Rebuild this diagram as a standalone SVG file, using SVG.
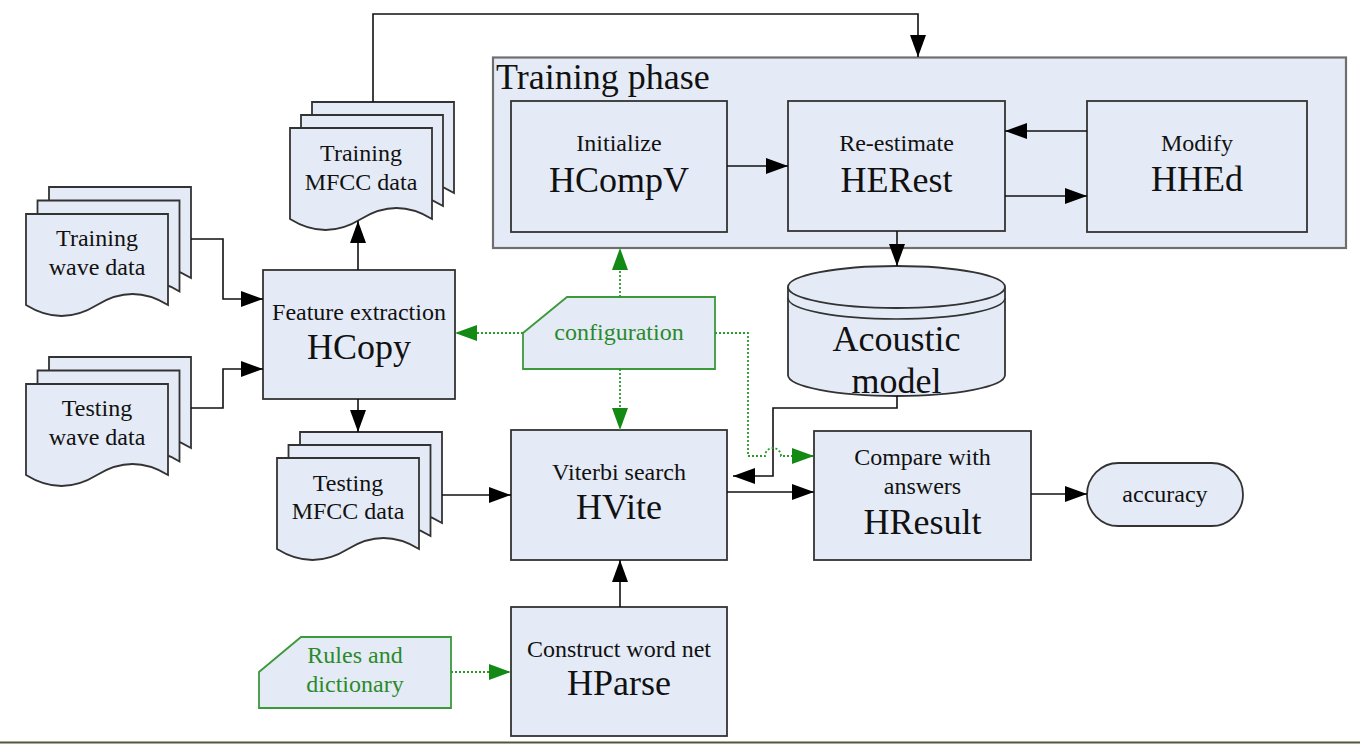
<svg xmlns="http://www.w3.org/2000/svg" width="1360" height="744" viewBox="0 0 1360 744">
<defs>
<style>
.box{fill:#e5ebf6;stroke:#333;stroke-width:1.8}
.cont{fill:#e5ebf6;stroke:#6e6e6e;stroke-width:2.2}
.card{fill:#e5ebf6;stroke:#3a9a3a;stroke-width:1.8}
.t{font-family:"Liberation Serif","Times New Roman",serif;fill:#111;text-anchor:middle}
.s{font-size:24px}
.b{font-size:36px}
.g{fill:#2a8a2a}
.ln{fill:none;stroke:#111;stroke-width:1.6}
.gl{fill:none;stroke:#2a9a2a;stroke-width:1.8;stroke-dasharray:2 2}
</style>
<marker id="ah" viewBox="0 0 22 16" refX="22" refY="8" markerWidth="22" markerHeight="16" markerUnits="userSpaceOnUse" orient="auto">
<path d="M0,0 L22,8 L0,16 Z" fill="#000"/>
</marker>
<marker id="gh" viewBox="0 0 22 16" refX="22" refY="8" markerWidth="22" markerHeight="16" markerUnits="userSpaceOnUse" orient="auto">
<path d="M0,0 L22,8 L0,16 Z" fill="#138a13"/>
</marker>
<path id="doc" d="M0,0 H142 V91 Q106.5,69 71,91 T0,91 Z"/>
</defs>
<rect width="1360" height="744" fill="#fff"/>

<g id="training-phase">
<rect class="cont" x="493" y="57.5" width="853" height="190.5"/>
<text class="t" x="496" y="89" font-size="36" text-anchor="start" style="text-anchor:start">Training phase</text>
</g>

<g id="hcompv">
<rect class="box" x="511" y="101" width="216" height="131"/>
<text class="t s" x="619" y="151">Initialize</text>
<text class="t b" x="619" y="192">HCompV</text>
</g>
<g id="herest">
<rect class="box" x="788" y="101" width="217" height="130"/>
<text class="t s" x="896.5" y="151">Re-estimate</text>
<text class="t b" x="896.5" y="192">HERest</text>
</g>
<g id="hhed">
<rect class="box" x="1087" y="101" width="220" height="131"/>
<text class="t s" x="1197" y="151">Modify</text>
<text class="t b" x="1197" y="191">HHEd</text>
</g>

<g id="training-wave-data">
<use href="#doc" x="49" y="187" class="box"/>
<use href="#doc" x="37.5" y="200.5" class="box"/>
<use href="#doc" x="26" y="214" class="box"/>
<text class="t s" x="97" y="246">Training</text>
<text class="t s" x="97" y="275">wave data</text>
</g>
<g id="testing-wave-data">
<use href="#doc" x="49" y="357" class="box"/>
<use href="#doc" x="37.5" y="370.5" class="box"/>
<use href="#doc" x="26" y="384" class="box"/>
<text class="t s" x="97" y="416">Testing</text>
<text class="t s" x="97" y="445">wave data</text>
</g>
<g id="training-mfcc">
<use href="#doc" x="312" y="102" class="box"/>
<use href="#doc" x="301" y="115" class="box"/>
<use href="#doc" x="290" y="128" class="box"/>
<text class="t s" x="361" y="161">Training</text>
<text class="t s" x="361" y="190">MFCC data</text>
</g>
<g id="testing-mfcc">
<use href="#doc" x="300" y="432" class="box"/>
<use href="#doc" x="288.5" y="445" class="box"/>
<use href="#doc" x="277" y="458" class="box"/>
<text class="t s" x="348" y="491">Testing</text>
<text class="t s" x="348" y="519">MFCC data</text>
</g>

<g id="hcopy">
<rect class="box" x="263" y="270" width="192" height="129"/>
<text class="t s" x="359" y="320">Feature extraction</text>
<text class="t b" x="359" y="359">HCopy</text>
</g>

<g id="configuration">
<path class="card" d="M567,297 H715 V369 H523 V333 Z"/>
<text class="t s g" x="619" y="340">configuration</text>
</g>

<g id="acoustic-model">
<path class="box" d="M788,287 V375 A108.5,21 0 0 0 1005,375 V287"/>
<ellipse class="box" cx="896.5" cy="287" rx="108.5" ry="21"/>
<path class="ln" style="stroke:#333" d="M788,298 A108.5,21 0 0 0 1005,298"/>
<text class="t b" x="896.5" y="351">Acoustic</text>
<text class="t b" x="896.5" y="393">model</text>
</g>

<g id="hvite">
<rect class="box" x="511" y="430" width="216" height="130"/>
<text class="t s" x="619" y="480">Viterbi search</text>
<text class="t b" x="619" y="519">HVite</text>
</g>

<g id="hresult">
<rect class="box" x="814" y="431" width="217" height="129"/>
<text class="t s" x="922.5" y="465">Compare with</text>
<text class="t s" x="922.5" y="494">answers</text>
<text class="t b" x="922.5" y="534">HResult</text>
</g>

<g id="accuracy">
<rect class="box" x="1087" y="463" width="156" height="63" rx="31.5"/>
<text class="t s" x="1165" y="502">accuracy</text>
</g>

<g id="hparse">
<rect class="box" x="511" y="607" width="216" height="129"/>
<text class="t s" x="619" y="657">Construct word net</text>
<text class="t b" x="619" y="695">HParse</text>
</g>

<g id="rules">
<path class="card" d="M301,637 H451 V708 H259 V672 Z"/>
<text class="t s g" x="355" y="663">Rules and</text>
<text class="t s g" x="355" y="692">dictionary</text>
</g>

<g id="connectors">
<path class="ln" marker-end="url(#ah)" d="M191,239 H223 V299 H263"/>
<path class="ln" marker-end="url(#ah)" d="M191,408 H223 V369 H263"/>
<path class="ln" marker-end="url(#ah)" d="M358,270 V221"/>
<path class="ln" marker-end="url(#ah)" d="M358,399 V432"/>
<path class="ln" marker-end="url(#ah)" d="M373,102 V14 H918 V57"/>
<path class="ln" marker-end="url(#ah)" d="M727,166 H788"/>
<path class="ln" marker-end="url(#ah)" d="M1005,196 H1087"/>
<path class="ln" marker-end="url(#ah)" d="M1087,131 H1005"/>
<path class="ln" marker-end="url(#ah)" d="M897,231 V266"/>
<path class="ln" marker-end="url(#ah)" d="M897,396 V408 H773 V476 H733"/>
<path class="ln" marker-end="url(#ah)" d="M727,492 H814"/>
<path class="ln" marker-end="url(#ah)" d="M1031,494 H1087"/>
<path class="ln" marker-end="url(#ah)" d="M442,495 H511"/>
<path class="ln" marker-end="url(#ah)" d="M620,607 V560"/>
<path class="gl" marker-end="url(#gh)" d="M523,333 H455"/>
<path class="gl" marker-end="url(#gh)" d="M620,297 V248"/>
<path class="gl" marker-end="url(#gh)" d="M620,369 V430"/>
<path class="gl" marker-end="url(#gh)" d="M715,333 H748 V456 H765 A8,8 0 0 1 781,456 H814"/>
<path class="gl" marker-end="url(#gh)" d="M451,672 H511"/>
</g>
<line x1="0" y1="742.5" x2="1360" y2="742.5" stroke="#55553a" stroke-width="2"/>
</svg>
